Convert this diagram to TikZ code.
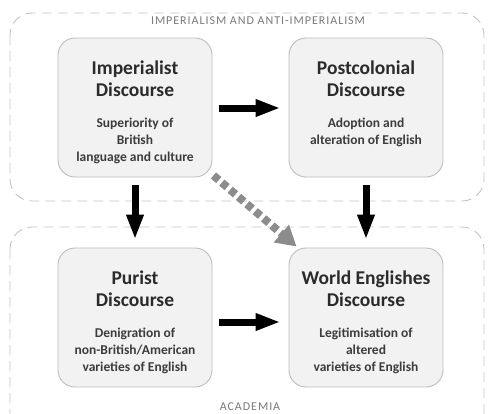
\documentclass[tikz,border=0pt]{standalone}
\usepackage{fontspec}
\setmainfont{Carlito}
\newfontfamily\capsfont[LetterSpace=8]{Carlito}
\usetikzlibrary{arrows.meta,positioning}
\definecolor{boxfill}{HTML}{F2F2F2}
\definecolor{boxline}{HTML}{BDBDBD}
\definecolor{regline}{HTML}{C4C4C4}
\definecolor{titlecol}{HTML}{2B2B2B}
\definecolor{subcol}{HTML}{3C3C3C}
\definecolor{labcol}{HTML}{7A7A7A}
\definecolor{dashgrey}{HTML}{8C8C8C}

\begin{document}
\begin{tikzpicture}[x=1pt,y=-1pt,
    region/.style={draw=regline,line width=0.9pt,dash pattern=on 10pt off 6pt,rounded corners=22pt},
    reglabel/.style={text=labcol,font=\capsfont\fontsize{12}{14}\selectfont,inner sep=1pt},
    discbox/.style={draw=boxline,fill=boxfill,line width=0.9pt,rounded corners=17pt,minimum width=154pt,minimum height=139pt,inner sep=0pt},
    disctitle/.style={text=titlecol,font=\bfseries\fontsize{19.5}{22}\selectfont,align=center,inner sep=0pt},
    discsub/.style={text=subcol,font=\bfseries\fontsize{13.5}{17}\selectfont,align=center,inner sep=0pt},
    bigarrow/.style={line width=7pt,-{Triangle[length=25pt,width=16pt]}},
    dasharrow/.style={dashgrey,line width=8pt,dash pattern=on 7pt off 4pt,-{Triangle[length=20pt,width=22pt]}}]
        \clip (0,0) rectangle (490,413);
        \fill[white] (0,0) rectangle (490,413);
        % regions
        \draw[region] (10,13) rectangle (484,201);
        \draw[region] (10,227) rectangle (484,440);
        \node[reglabel] (toplbl) at (258,21) {IMPERIALISM AND ANTI-IMPERIALISM};
        \node[reglabel] (botlbl) at (250,407) {ACADEMIA};
        % discourse boxes
        \node[discbox] (imp) at (135,107.5) {};
        \node[discbox] (post) at (366,107.5) {};
        \node[discbox] (pur) at (135,317.5) {};
        \node[discbox] (world) at (366,317.5) {};
        \node[disctitle,below=23pt of imp.north] (impt) {Imperialist\\Discourse};
        \node[disctitle,below=23pt of post.north] (postt) {Postcolonial\\Discourse};
        \node[disctitle,below=23pt of pur.north] (purt) {Purist\\Discourse};
        \node[disctitle,below=23pt of world.north] (worldt) {World Englishes\\Discourse};
        \node[discsub,below=80pt of imp.north] (imps) {Superiority of\\British\\language and culture};
        \node[discsub,below=80pt of post.north] (posts) {Adoption and\\alteration of English};
        \node[discsub,below=80pt of pur.north] (purs) {Denigration of\\non-British/American\\varieties of English};
        \node[discsub,below=80pt of world.north] (worlds) {Legitimisation of\\altered\\varieties of English};
        % arrows
        \draw[bigarrow] ([xshift=7pt,yshift=-0.5pt]imp.east) -- ([xshift=-8pt,yshift=-0.5pt]post.west);
        \draw[bigarrow] ([xshift=7pt,yshift=-4.5pt]pur.east) -- ([xshift=-8pt,yshift=-4.5pt]world.west);
        \draw[bigarrow] ([yshift=-8pt]imp.south) -- ([yshift=8pt]pur.north);
        \draw[bigarrow] ([yshift=-8pt]post.south) -- ([yshift=8pt]world.north);
        \draw[dasharrow] ([xshift=1pt,yshift=2pt]imp.south east) -- ([xshift=8pt,yshift=1pt]world.north west);
    \end{tikzpicture}
\end{document}
